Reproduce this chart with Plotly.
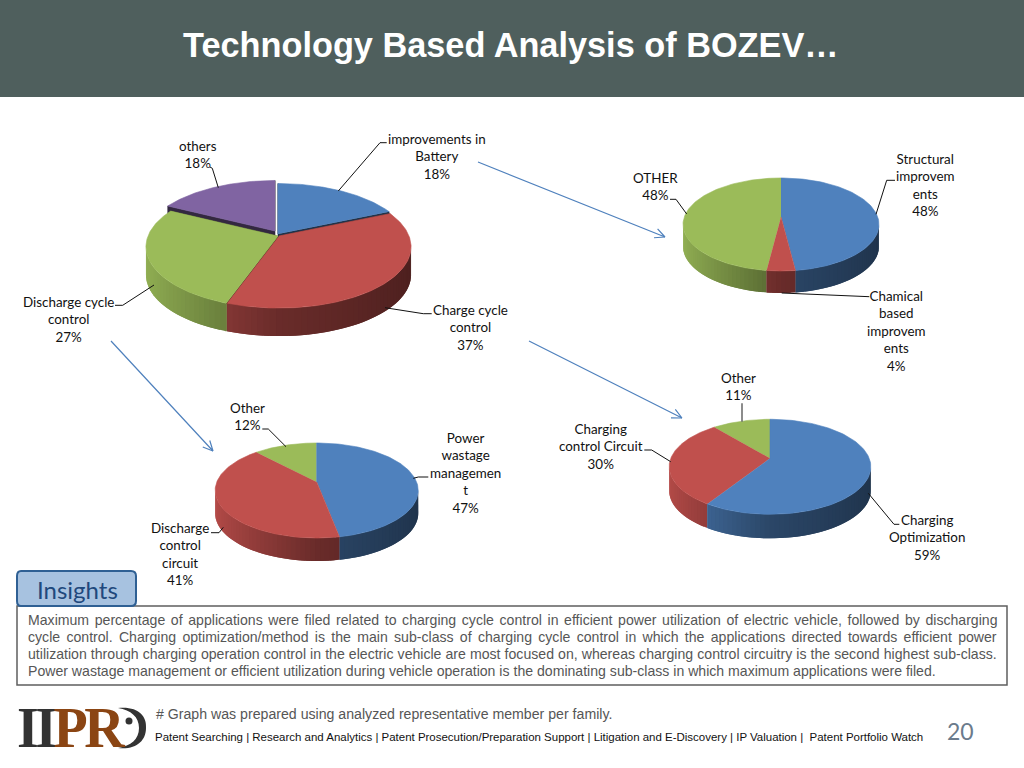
import numpy as np
import plotly.graph_objects as go

# values ------------------------------
names_battery = ["improvements in<br>Battery", "Charge cycle<br>control", "Discharge cycle<br>control", "others"]
vals_battery = [18.4, 37, 27.1, 17.5]
names_struct = ["Structural<br>improvem<br>ents", "Chamical<br>based<br>improvem<br>ents", "OTHER"]
vals_struct = [48, 4, 48]
names_discharge = ["Power<br>wastage<br>managemen<br>t", "Discharge<br>control<br>circuit", "Other"]
vals_discharge = [47, 41, 12]
names_charge = ["Charging<br>Optimization", "Charging<br>control Circuit", "Other"]
vals_charge = [59, 30, 11]

title_text = "Technology Based Analysis of BOZEV…"
body_lines = [
    "Maximum percentage of applications were filed related to charging cycle control in efficient power utilization of electric vehicle, followed by discharging",
    "cycle control. Charging optimization/method is the main sub-class of charging cycle control in which the applications directed towards efficient power",
    "utilization through charging operation control in the electric vehicle are most focused on, whereas charging control circuitry is the second highest sub-class.",
    "Power wastage management or efficient utilization during vehicle operation is the dominating sub-class in which maximum applications were filed.",
]
body_spacing = [1.72, 2.38, 0.17, 0.0]
note_text = "# Graph was prepared using analyzed representative member per family."
footer_text = "Patent Searching | Research and Analytics | Patent Prosecution/Preparation Support | Litigation and E-Discovery | IP Valuation |  Patent Portfolio Watch"

BLUE, RED, GREEN, PURPLE = (79, 129, 189), (192, 80, 77), (155, 187, 89), (128, 100, 162)

# pie geometry, in slide pixels ----------
pies = [
    dict(names=names_struct, vals=vals_struct, colors=[BLUE, RED, GREEN], apex=[(781, 217)] * 3,
         A=96.7, B=45.3, p=0.161, depth=22, order=[0, 2, 1],
         label_xy=[(925, 185), (896, 331), (655, 186)]),
    dict(names=names_discharge, vals=vals_discharge, colors=[BLUE, RED, GREEN], apex=[(316.7, 482)] * 3,
         A=99.9, B=46, p=0.179, depth=23, order=[2, 0, 1],
         label_xy=[(465, 473), (180, 554), (247, 416)]),
    dict(names=names_charge, vals=vals_charge, colors=[BLUE, RED, GREEN], apex=[(770, 458.3)] * 3,
         A=99.2, B=46, p=0.179, depth=24, order=[2, 1, 0],
         label_xy=[(927, 537), (601, 446), (738, 386)]),
    dict(names=names_battery, vals=vals_battery, colors=[BLUE, RED, GREEN, PURPLE],
         apex=[(278, 234), (279, 236), (278, 236), (275, 231)],
         A=130, B=59.4, p=0.176, depth=28, order=[3, 0, 2, 1], radial=[0.4, 0.5, 0.8, 0.4],
         label_xy=[(437, 156), (470, 327), (68, 319), (198, 154.5)]),
]

leaders = [
    ([338.3, 380, 386.7], [191, 142.7, 142.7]),
    ([218.3, 212.3, 210], [187.7, 168.3, 167]),
    ([154, 122.7, 115], [285, 305.3, 305.3]),
    ([385, 423.3, 431.7], [307.7, 313.7, 313.7]),
    ([876, 886.7, 895], [214.3, 180.3, 180.3]),
    ([686.7, 676, 670], [214, 199.3, 199.3]),
    ([781.7, 860, 869.3], [293, 296.7, 296.7]),
    ([286, 268.3, 262.3], [446.7, 429, 429]),
    ([413.3, 418.3, 428.3], [478.3, 477, 477]),
    ([223.3, 219, 211], [527.3, 532.7, 532.7]),
    ([670.7, 651.7, 644.3], [461.7, 450, 450]),
    ([868.3, 894, 899.3], [493.3, 524.3, 524.3]),
]
arrows = [((478, 162), (665, 237)), ((529, 341), (682, 418)), ((111, 341), (213, 451))]


def rgb(c, f=1.0):
    return "rgb(%d,%d,%d)" % tuple(int(x * f) for x in c)


def rim(t, apex, pie):
    w = 1 + pie["p"] * np.cos(t)
    return apex[0] + pie["A"] * np.sin(t) / w, apex[1] - pie["B"] * np.cos(t) / w


def poly(fig, xs, ys, color, width=0.6):
    fig.add_trace(go.Scatter(x=xs, y=ys, mode="lines", fill="toself", fillcolor=color,
                             line=dict(color=color, width=width), hoverinfo="skip", showlegend=False))


def wall_shade(u):
    return float(np.interp(u, [-1, 0, 1], [0.95, 0.55, 0.4]))


def draw_pie(fig, pie):
    edges = 2 * np.pi * np.cumsum([0] + pie["vals"]) / sum(pie["vals"])
    for i in pie["order"]:
        apex, col, d = pie["apex"][i], pie["colors"][i], pie["depth"]
        t0, t1 = edges[i], edges[i + 1]
        # inner walls, only visible where slices are pulled apart
        if "radial" in pie:
            for t in (t0, t1):
                x, y = rim(t, apex, pie)
                poly(fig, [apex[0], x, x, apex[0]], [apex[1], y, y + d, apex[1] + d],
                     rgb(col, pie["radial"][i]))
        # outer wall as thin strips to fake the shading, each one runs under the next
        ts = np.linspace(t0, t1, max(int((t1 - t0) / 0.04), 2) + 1)
        for a, b, c2 in zip(ts[:-1], ts[1:], list(ts[2:]) + [ts[-1]]):
            xa, ya = rim(a, apex, pie)
            xb, yb = rim(b, apex, pie)
            if xb >= xa:
                continue
            xc, yc = rim(c2, apex, pie)
            c = rgb(col, wall_shade(np.sin((a + b) / 2)))
            poly(fig, [xa, xb, xc, xc, xb, xa], [ya, yb, yc, yc + d, yb + d, ya + d], c, width=0)
        # top face
        x, y = rim(np.linspace(t0, t1, 120), apex, pie)
        poly(fig, [apex[0]] + list(x), [apex[1]] + list(y), rgb(col))


fig = go.Figure()

# header and boxes ----------
shapes = [
    dict(type="rect", x0=0, x1=1024, y0=0, y1=97, fillcolor="#4f5f5d", line_width=0),
    dict(type="rect", x0=17, x1=1007, y0=606, y1=685, fillcolor="white", line=dict(color="#5f5f5f", width=1.5)),
    dict(type="path", path="M 21 571 L 131 571 Q 136 571 136 576 L 136 601 Q 136 606 131 606 L 21 606 "
                           "Q 17 606 17 601 L 17 576 Q 17 571 21 571 Z",
         fillcolor="#a7c2e0", line=dict(color="#2f6094", width=2)),
    # logo crescent
    dict(type="path", path="M 118 708 C 138 706 147 716 146 728 C 146 741 136 750 118 748 "
                           "C 131 746 139 739 139 728 C 139 717 131 710 118 708 Z",
         fillcolor="#333333", line_width=0),
    dict(type="circle", x0=125.5, x1=132.5, y0=717.5, y1=724.5, fillcolor="#333333", line_width=0),
]

for pie in pies:
    draw_pie(fig, pie)

for lx, ly in leaders:
    fig.add_trace(go.Scatter(x=lx, y=ly, mode="lines", line=dict(color="#111111", width=1),
                             hoverinfo="skip", showlegend=False))
fig.add_trace(go.Scatter(x=[742, 742], y=[421.7, 403.3], mode="lines", line=dict(color="#666666", width=1.5),
                         hoverinfo="skip", showlegend=False))

# arrows with an open head
for (x0, y0), (x1, y1) in arrows:
    ang = np.arctan2(y1 - y0, x1 - x0)
    hx = [x1 - 11 * np.cos(ang + s) for s in (0.45, -0.45)]
    hy = [y1 - 11 * np.sin(ang + s) for s in (0.45, -0.45)]
    fig.add_trace(go.Scatter(x=[x0, x1, hx[0], None, x1, hx[1]], y=[y0, y1, hy[0], None, y1, hy[1]],
                             mode="lines", line=dict(color="#4f81bd", width=1.2),
                             hoverinfo="skip", showlegend=False))


def note(x, y, text, size, color, family, anchor="center", bold=False):
    if bold:
        text = "<b>" + text + "</b>"
    fig.add_annotation(x=x, y=y, xref="x", yref="y", text=text, showarrow=False, xanchor=anchor,
                       yanchor="middle", align="center", borderpad=0, borderwidth=0,
                       font=dict(size=size, color=color, family=family))


for pie in pies:
    for name, val, (lx, ly) in zip(pie["names"], pie["vals"], pie["label_xy"]):
        note(lx, ly, "%s<br>%.0f%%" % (name, val), 13.4, "#111111", "Lato")

note(511, 45, title_text, 34.3, "white", "Liberation Sans", bold=True)
note(77, 589, "Insights", 24, "#1f497d", "Lato")
for i, (line, sp) in enumerate(zip(body_lines, body_spacing)):
    note(28, 620 + 17 * i, '<span style="word-spacing:%.2fpx">%s</span>' % (sp, line), 14.1, "#565656",
         "Liberation Sans", anchor="left")
note(156, 714, note_text, 14.15, "#565656", "Liberation Sans", anchor="left")
note(155, 737, footer_text, 11.48, "#111111", "Liberation Sans", anchor="left")
note(960, 731, "20", 23, "#6b7b8c", "Lato")
note(17, 728, '<span style="color:#333333;letter-spacing:-3.5px">II</span>'
              '<span style="color:#8b4513;letter-spacing:-3.5px">PR</span>', 56, "#333333",
     "Liberation Serif", anchor="left", bold=True)

fig.update_layout(
    width=1024, height=768, margin=dict(l=0, r=0, t=0, b=0), autosize=False,
    paper_bgcolor="white", plot_bgcolor="white", showlegend=False, shapes=shapes,
    xaxis=dict(range=[0, 1024], visible=False, fixedrange=True),
    yaxis=dict(range=[768, 0], visible=False, fixedrange=True),
)
for s in fig.layout.shapes:
    s.layer = "below"

# the page's default body margin would push the slide 8px in
fig.write_html("out.html", config=dict(displayModeBar=False),
               post_script="document.body.style.margin='0';document.body.style.overflow='hidden';")
